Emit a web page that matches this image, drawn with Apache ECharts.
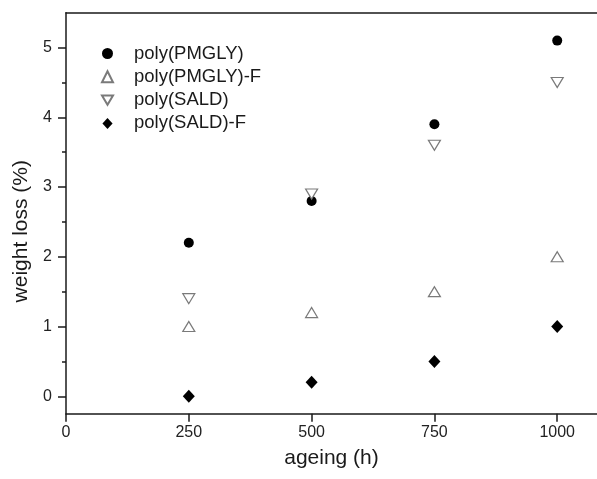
<!DOCTYPE html>
<html>
<head>
<meta charset="utf-8">
<script src="https://cdn.jsdelivr.net/npm/echarts@6/dist/echarts.min.js"></script>
<style>
  html, body { margin: 0; padding: 0; background: #fff; }
  #chart { width: 597px; height: 479px; }
</style>
</head>
<body>
<div id="chart"></div>
<script>
// Ageing time (h) and weight loss (%) for each polymer
const hours = [250, 500, 750, 1000];
const pmgly = [2.2, 2.8, 3.9, 5.1];
const pmglyF = [1.0, 1.2, 1.5, 2.0];
const sald = [1.4, 2.9, 3.6, 4.5];
const saldF = [0, 0.2, 0.5, 1.0];

const seriesNames = ['poly(PMGLY)', 'poly(PMGLY)-F', 'poly(SALD)', 'poly(SALD)-F'];
const xTicks = [0, 250, 500, 750, 1000];
const yTicks = [0, 1, 2, 3, 4, 5];
const yMinorTicks = [0.5, 1.5, 2.5, 3.5, 4.5];

const FONT = 'Liberation Sans, Arial, sans-serif';
const INK = '#1a1a1a';
const GREY = '#7a7a7a';

// legend glyphs: downward triangle and a full-size diamond
const TRI_DOWN = 'path://M0,0 L12,0 L6,10 Z';
const DIAMOND = 'path://M6,0 L12,6.5 L6,13 L0,6.5 Z';

function pairs(ys) {
  return hours.map((h, i) => [h, ys[i]]);
}

const chart = echarts.init(document.getElementById('chart'), null, { renderer: 'canvas' });

chart.setOption({
  animation: false,
  backgroundColor: '#fff',
  textStyle: { fontFamily: FONT },
  grid: { left: 66, right: 0, top: 12.7, bottom: 65.3 },
  legend: {
    orient: 'vertical',
    left: 96,
    top: 38,
    itemWidth: 11,
    itemHeight: 11,
    itemGap: 2.3,
    textStyle: {
      fontFamily: FONT,
      fontSize: 18.5,
      color: INK,
      lineHeight: 21,
      padding: [0, 0, 0, 16]
    },
    data: [
      { name: seriesNames[0] },
      { name: seriesNames[1] },
      { name: seriesNames[2], icon: TRI_DOWN },
      { name: seriesNames[3], icon: DIAMOND }
    ]
  },
  xAxis: [
    {
      type: 'value',
      min: 0,
      max: 1081,
      position: 'bottom',
      name: 'ageing (h)',
      nameLocation: 'middle',
      nameGap: 34,
      nameTextStyle: { fontFamily: FONT, fontSize: 21, color: INK },
      axisLine: { show: true, onZero: false, lineStyle: { color: INK, width: 1.5 } },
      axisTick: { show: true, inside: false, length: 8, customValues: xTicks, lineStyle: { color: INK, width: 1.5 } },
      axisLabel: {
        customValues: xTicks,
        margin: 11,
        fontFamily: FONT,
        fontSize: 16,
        color: '#222',
        formatter: (v) => String(v)
      },
      splitLine: { show: false }
    },
    {
      type: 'value',
      min: 0,
      max: 1081,
      position: 'top',
      axisLine: { show: true, onZero: false, lineStyle: { color: INK, width: 1.5 } },
      axisTick: { show: false },
      axisLabel: { show: false },
      splitLine: { show: false }
    }
  ],
  yAxis: [
    {
      type: 'value',
      min: -0.25,
      max: 5.5,
      position: 'left',
      name: 'weight loss (%)',
      nameLocation: 'middle',
      nameGap: 30,
      nameTextStyle: { fontFamily: FONT, fontSize: 21, color: INK, padding: [0, 36, 0, 0] },
      axisLine: { show: true, onZero: false, lineStyle: { color: INK, width: 1.5 } },
      axisTick: { show: true, inside: false, length: 8, customValues: yTicks, lineStyle: { color: INK, width: 1.5 } },
      axisLabel: { customValues: yTicks, margin: 14, fontFamily: FONT, fontSize: 16, color: '#222' },
      splitLine: { show: false }
    },
    {
      // minor ticks at the half-units
      type: 'value',
      min: -0.25,
      max: 5.5,
      position: 'left',
      axisLine: { show: false },
      axisTick: { show: true, inside: false, length: 4, customValues: yMinorTicks, lineStyle: { color: INK, width: 1.5 } },
      axisLabel: { show: false },
      splitLine: { show: false }
    }
  ],
  series: [
    {
      name: seriesNames[0],
      type: 'scatter',
      symbol: 'circle',
      symbolSize: 10,
      itemStyle: { color: '#000', opacity: 1 },
      data: pairs(pmgly)
    },
    {
      name: seriesNames[1],
      type: 'scatter',
      symbol: 'triangle',
      symbolSize: [12, 10],
      itemStyle: { color: '#fff', borderColor: GREY, borderWidth: 1.2, opacity: 1 },
      data: pairs(pmglyF)
    },
    {
      name: seriesNames[2],
      type: 'scatter',
      symbol: 'triangle',
      symbolRotate: 180,
      symbolSize: [12, 10],
      itemStyle: { color: '#fff', borderColor: GREY, borderWidth: 1.2, opacity: 1 },
      data: pairs(sald)
    },
    {
      name: seriesNames[3],
      type: 'scatter',
      symbol: 'diamond',
      symbolSize: [12, 13],
      itemStyle: { color: '#000', opacity: 1 },
      data: pairs(saldF)
    }
  ]
});
</script>
</body>
</html>
